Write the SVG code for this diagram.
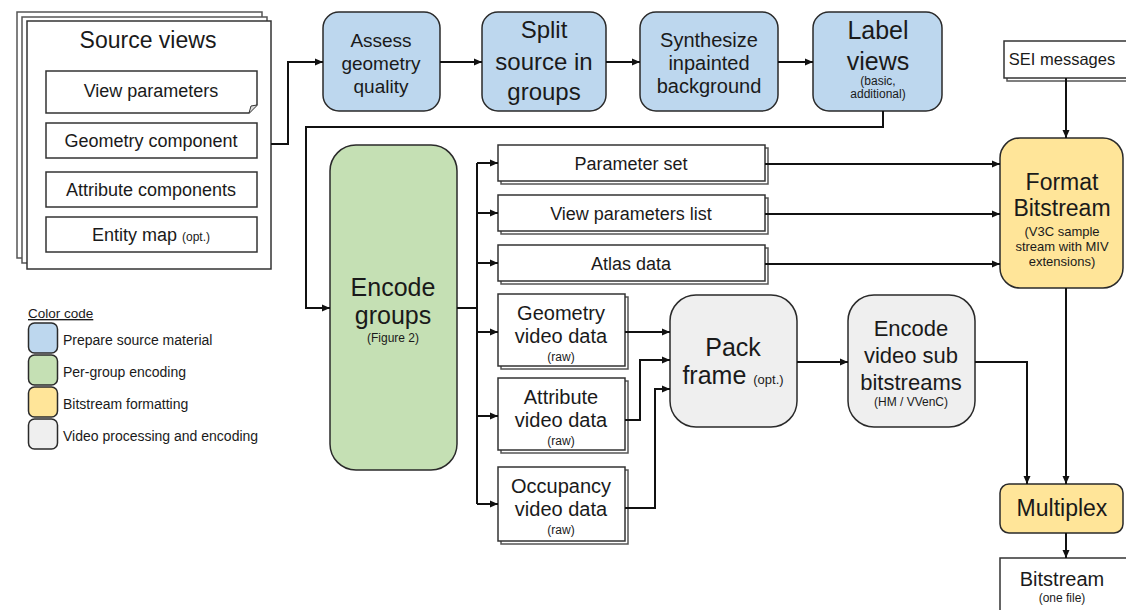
<svg xmlns="http://www.w3.org/2000/svg" width="1126" height="610" viewBox="0 0 1126 610">
<style>
text{font-family:"Liberation Sans",Arial,sans-serif;fill:#1a1a1a;text-anchor:middle}
.doc{fill:#fff;stroke:#333;stroke-width:1.5}
.back{fill:#fff;stroke:#555;stroke-width:1.5}
.blue{fill:#bdd7ee;stroke:#2a2a2a;stroke-width:1.5}
.green{fill:#c5e0b4;stroke:#2a2a2a;stroke-width:1.5}
.yellow{fill:#ffe599;stroke:#2a2a2a;stroke-width:1.5}
.grey{fill:#efefef;stroke:#2a2a2a;stroke-width:1.5}
.conn{fill:none;stroke:#111;stroke-width:2}
.s{font-size:12px}
.lg{font-size:14px;text-anchor:start}
</style>
<defs>
<marker id="ah" markerUnits="userSpaceOnUse" markerWidth="9" markerHeight="8" refX="8" refY="4" orient="auto">
<path d="M0,0.5 L8,4 L0,7.5 z" fill="#111"/>
</marker>
</defs>

<g id="source-views">
<rect class="back" x="17" y="12" width="245" height="246"/>
<rect class="back" x="22" y="17" width="245" height="246"/>
<rect class="doc" x="27" y="21" width="244" height="248"/>
<text x="148" y="48" style="font-size:23px">Source views</text>
<path class="doc" d="M46,71 H257 V105 L249,113 H46 Z"/>
<path d="M257,105 L251,106 L249,113" fill="#ddd" stroke="#333" stroke-width="1"/>
<text x="151" y="97" style="font-size:18px">View parameters</text>
<rect class="doc" x="46" y="123" width="211" height="35"/>
<text x="151" y="147" style="font-size:18px">Geometry component</text>
<rect class="doc" x="46" y="172" width="211" height="35"/>
<text x="151" y="196" style="font-size:18px">Attribute components</text>
<rect class="doc" x="46" y="217" width="211" height="35"/>
<text x="151" y="241" style="font-size:18px">Entity map <tspan class="s">(opt.)</tspan></text>
</g>

<g id="assess">
<rect class="blue" x="323" y="12" width="117" height="99" rx="16"/>
<text x="381" y="47" style="font-size:19px">Assess</text>
<text x="381" y="70" style="font-size:19px">geometry</text>
<text x="381" y="93" style="font-size:19px">quality</text>
</g>
<g id="split">
<rect class="blue" x="482" y="12" width="124" height="99" rx="16"/>
<text x="544" y="38" style="font-size:24px">Split</text>
<text x="544" y="70" style="font-size:24px">source in</text>
<text x="544" y="100" style="font-size:24px">groups</text>
</g>
<g id="synthesize">
<rect class="blue" x="640" y="12" width="138" height="99" rx="16"/>
<text x="709" y="47" style="font-size:20px">Synthesize</text>
<text x="709" y="70" style="font-size:20px">inpainted</text>
<text x="709" y="93" style="font-size:20px">background</text>
</g>
<g id="label-views">
<rect class="blue" x="813" y="12" width="129" height="99" rx="16"/>
<text x="878" y="39" style="font-size:25px">Label</text>
<text x="878" y="70" style="font-size:25px">views</text>
<text x="878" y="85" class="s">(basic,</text>
<text x="878" y="98" class="s">additional)</text>
</g>

<g id="sei">
<rect class="back" x="1007" y="44" width="125" height="37"/>
<rect class="doc" x="1004" y="41" width="125" height="37"/>
<text x="1062" y="65" style="font-size:16.5px">SEI messages</text>
</g>

<g id="encode-groups">
<rect class="green" x="330" y="145" width="127" height="325" rx="26"/>
<text x="393" y="296" style="font-size:25px">Encode</text>
<text x="393" y="324" style="font-size:25px">groups</text>
<text x="393" y="342" class="s">(Figure 2)</text>
</g>

<g id="parameter-set">
<rect class="back" x="501" y="148" width="267" height="36"/>
<rect class="doc" x="498" y="145" width="267" height="36"/>
<text x="631" y="170" style="font-size:18px">Parameter set</text>
</g>
<g id="view-parameters-list">
<rect class="back" x="501" y="198" width="267" height="36"/>
<rect class="doc" x="498" y="195" width="267" height="36"/>
<text x="631" y="220" style="font-size:18px">View parameters list</text>
</g>
<g id="atlas-data">
<rect class="back" x="501" y="248" width="267" height="36"/>
<rect class="doc" x="498" y="245" width="267" height="36"/>
<text x="631" y="270" style="font-size:18px">Atlas data</text>
</g>

<g id="geometry-video">
<rect class="back" x="501" y="297" width="127" height="72"/>
<rect class="doc" x="498" y="294" width="127" height="72"/>
<text x="561" y="320" style="font-size:20px">Geometry</text>
<text x="561" y="343" style="font-size:20px">video data</text>
<text x="561" y="361" class="s">(raw)</text>
</g>
<g id="attribute-video">
<rect class="back" x="501" y="381" width="127" height="72"/>
<rect class="doc" x="498" y="378" width="127" height="72"/>
<text x="561" y="404" style="font-size:20px">Attribute</text>
<text x="561" y="427" style="font-size:20px">video data</text>
<text x="561" y="445" class="s">(raw)</text>
</g>
<g id="occupancy-video">
<rect class="back" x="501" y="470" width="127" height="74"/>
<rect class="doc" x="498" y="467" width="127" height="74"/>
<text x="561" y="493" style="font-size:20px">Occupancy</text>
<text x="561" y="516" style="font-size:20px">video data</text>
<text x="561" y="534" class="s">(raw)</text>
</g>

<g id="pack-frame">
<rect class="grey" x="670" y="295" width="127" height="132" rx="26"/>
<text x="733" y="356" style="font-size:25px">Pack</text>
<text x="733" y="384" style="font-size:25px">frame <tspan style="font-size:13px">(opt.)</tspan></text>
</g>
<g id="encode-video">
<rect class="grey" x="848" y="295" width="127" height="132" rx="26"/>
<text x="911" y="336" style="font-size:22px">Encode</text>
<text x="911" y="363" style="font-size:22px">video sub</text>
<text x="911" y="390" style="font-size:22px">bitstreams</text>
<text x="911" y="406" class="s">(HM / VVenC)</text>
</g>

<g id="format-bitstream">
<rect class="yellow" x="1000" y="138" width="123" height="150" rx="20"/>
<text x="1062" y="190" style="font-size:23px">Format</text>
<text x="1062" y="216" style="font-size:23px">Bitstream</text>
<text x="1062" y="236" style="font-size:13px">(V3C sample</text>
<text x="1062" y="251" style="font-size:13px">stream with MIV</text>
<text x="1062" y="266" style="font-size:13px">extensions)</text>
</g>
<g id="multiplex">
<rect class="yellow" x="1000" y="484" width="123" height="49" rx="9"/>
<text x="1062" y="516" style="font-size:23px">Multiplex</text>
</g>
<g id="bitstream">
<rect class="doc" x="1000" y="558" width="130" height="60"/>
<text x="1062" y="586" style="font-size:20px">Bitstream</text>
<text x="1062" y="602" class="s">(one file)</text>
</g>

<g id="legend">
<text x="28" y="318" style="font-size:13.5px;text-anchor:start;text-decoration:underline">Color code</text>
<rect class="blue" x="28.5" y="323" width="29" height="30" rx="6"/>
<text class="lg" x="63" y="345">Prepare source material</text>
<rect class="green" x="28.5" y="355" width="29" height="30" rx="6"/>
<text class="lg" x="63" y="377">Per-group encoding</text>
<rect class="yellow" x="28.5" y="387" width="29" height="30" rx="6"/>
<text class="lg" x="63" y="409">Bitstream formatting</text>
<rect class="grey" x="28.5" y="419" width="29" height="30" rx="6"/>
<text class="lg" x="63" y="441">Video processing and encoding</text>
</g>

<g id="connectors">
<path class="conn" marker-end="url(#ah)" d="M271,144 H288 V62 H323"/>
<path class="conn" marker-end="url(#ah)" d="M440,62 H482"/>
<path class="conn" marker-end="url(#ah)" d="M606,62 H640"/>
<path class="conn" marker-end="url(#ah)" d="M778,62 H813"/>
<path class="conn" marker-end="url(#ah)" d="M883,111 V127 H306 V308 H330"/>
<path class="conn" d="M457,308 H477 M477,163 V504"/>
<path class="conn" marker-end="url(#ah)" d="M477,163 H498"/>
<path class="conn" marker-end="url(#ah)" d="M477,213 H498"/>
<path class="conn" marker-end="url(#ah)" d="M477,263 H498"/>
<path class="conn" marker-end="url(#ah)" d="M477,332 H498"/>
<path class="conn" marker-end="url(#ah)" d="M477,416 H498"/>
<path class="conn" marker-end="url(#ah)" d="M477,504 H498"/>
<path class="conn" marker-end="url(#ah)" d="M765,164 H1000"/>
<path class="conn" marker-end="url(#ah)" d="M765,214 H1000"/>
<path class="conn" marker-end="url(#ah)" d="M765,264 H1000"/>
<path class="conn" marker-end="url(#ah)" d="M625,332 H670"/>
<path class="conn" marker-end="url(#ah)" d="M625,420 H640 V360 H670"/>
<path class="conn" marker-end="url(#ah)" d="M625,508 H655 V389 H670"/>
<path class="conn" marker-end="url(#ah)" d="M797,362 H848"/>
<path class="conn" marker-end="url(#ah)" d="M975,362 H1027 V484"/>
<path class="conn" marker-end="url(#ah)" d="M1066,78 V138"/>
<path class="conn" marker-end="url(#ah)" d="M1066,288 V484"/>
<path class="conn" marker-end="url(#ah)" d="M1066,533 V558"/>
</g>
</svg>
